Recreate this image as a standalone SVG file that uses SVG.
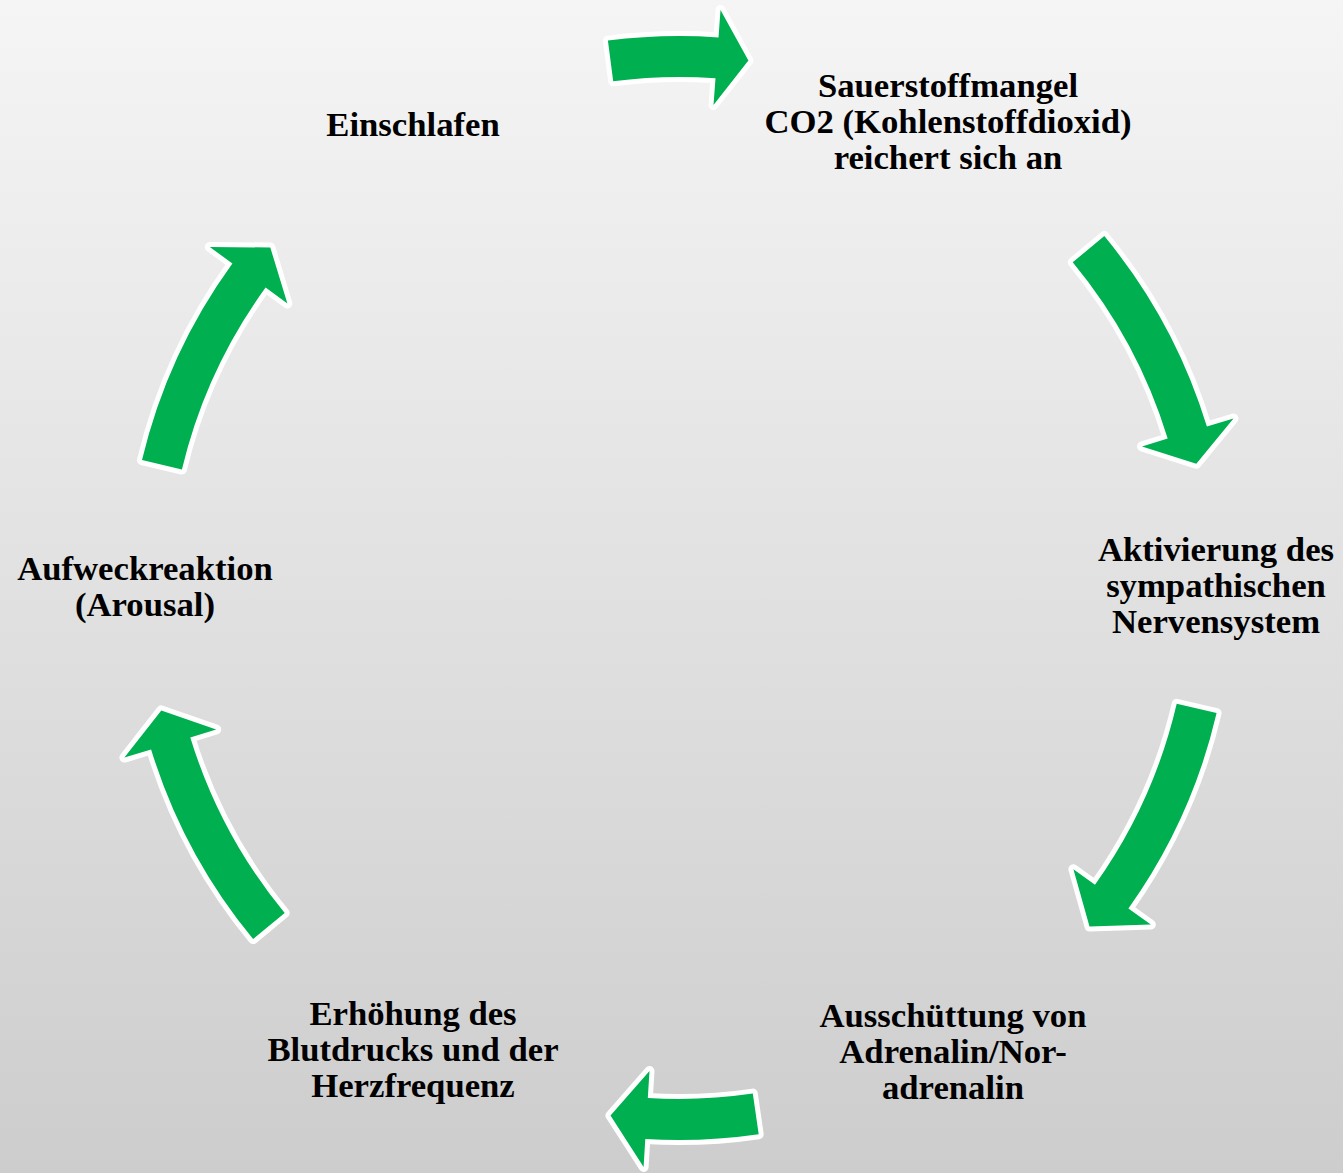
<svg xmlns="http://www.w3.org/2000/svg" width="1343" height="1173" viewBox="0 0 1343 1173">
<defs>
<linearGradient id="bg" x1="0" y1="0" x2="0" y2="1">
<stop offset="0" stop-color="#f5f5f5"/>
<stop offset="1" stop-color="#cdcdcd"/>
</linearGradient>
</defs>
<style>
.lbl{font-family:"Liberation Serif","Times New Roman",serif;font-weight:bold;font-size:34.7px;fill:#000;text-anchor:middle}
.arr{fill:#00B050;stroke:#fff;stroke-width:10;stroke-linejoin:round;paint-order:stroke}
</style>
<rect x="0" y="0" width="1343" height="1173" fill="url(#bg)"/>
<g id="connectors">
<path class="arr" d="M607.9,40.6 A552,552 0 0 1 718.5,37.4 L720.5,10 L748.4,60.6 L713.5,105 L715.5,78.3 A511,511 0 0 0 613.2,81.3 Z"/>
<path class="arr" d="M1104.3,236.1 A552,552 0 0 1 1206.9,426.6 L1233.5,418.5 L1196.3,463.8 L1142,446.4 L1167.7,438.6 A511,511 0 0 0 1072.7,262.3 Z"/>
<path class="arr" d="M1216.6,713.1 A552,552 0 0 1 1128.4,908.5 L1150.8,924.6 L1089.5,926.4 L1073.4,869.3 L1095.0,884.7 A511,511 0 0 0 1176.7,703.8 Z"/>
<path class="arr" d="M758.7,1134.2 A552,552 0 0 1 645.3,1139.0 L643.6,1166.9 L610.5,1115.6 L649.5,1071.1 L647.8,1098.0 A511,511 0 0 0 752.8,1093.6 Z"/>
<path class="arr" d="M253.1,939.1 A552,552 0 0 1 151.1,749.4 L124.4,757.6 L161.3,710.4 L216.2,729.5 L190.3,737.4 A511,511 0 0 0 284.7,913.0 Z"/>
<path class="arr" d="M142.0,460.1 A552,552 0 0 1 232.4,263.5 L209.8,247.0 L270.3,247.5 L287.4,303.5 L265.6,287.6 A511,511 0 0 0 181.9,469.6 Z"/>
</g>
<g id="node-einschlafen">
<text class="lbl" x="413" y="136">Einschlafen</text>
</g>
<g id="node-sauerstoffmangel">
<text class="lbl" x="948" y="97">Sauerstoffmangel</text>
<text class="lbl" x="948" y="133">CO2 (Kohlenstoffdioxid)</text>
<text class="lbl" x="948" y="169">reichert sich an</text>
</g>
<g id="node-aktivierung">
<text class="lbl" x="1216" y="561">Aktivierung des</text>
<text class="lbl" x="1216" y="597">sympathischen</text>
<text class="lbl" x="1216" y="633">Nervensystem</text>
</g>
<g id="node-ausschuettung">
<text class="lbl" x="953" y="1027">Ausschüttung von</text>
<text class="lbl" x="953" y="1063">Adrenalin/Nor-</text>
<text class="lbl" x="953" y="1099">adrenalin</text>
</g>
<g id="node-erhoehung">
<text class="lbl" x="413" y="1025">Erhöhung des</text>
<text class="lbl" x="413" y="1061">Blutdrucks und der</text>
<text class="lbl" x="413" y="1097">Herzfrequenz</text>
</g>
<g id="node-aufweckreaktion">
<text class="lbl" x="145" y="580">Aufweckreaktion</text>
<text class="lbl" x="145" y="616">(Arousal)</text>
</g>
</svg>
